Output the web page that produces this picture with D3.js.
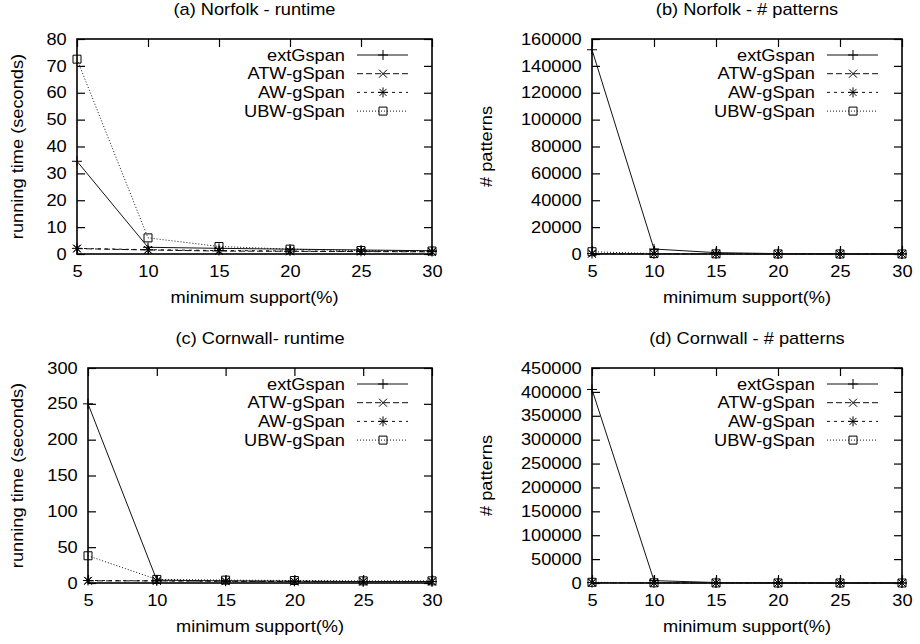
<!DOCTYPE html>
<html>
<head>
<meta charset="utf-8">
<script src="https://cdn.jsdelivr.net/npm/d3@7"></script>
<style>
  body { margin: 0; background: #fff; }
  text { font-family: "Liberation Sans", Arial, Helvetica, sans-serif; fill: #000; }
</style>
</head>
<body>
<div id="chart"></div>
<script>
// x values shared by all four panels
var supports = [5, 10, 15, 20, 25, 30];
var seriesNames = ["extGspan", "ATW-gSpan", "AW-gSpan", "UBW-gSpan"];

// (a) Norfolk - runtime (seconds)
var norfolkTimeExt = [34.5, 2.5, 2.1, 1.8, 1.5, 1.2];
var norfolkTimeATW = [2.0, 1.5, 1.1, 1.0, 0.9, 0.8];
var norfolkTimeAW  = [2.1, 1.6, 1.3, 1.1, 1.0, 0.9];
var norfolkTimeUBW = [72.5, 6.0, 2.8, 1.8, 1.3, 1.1];

// (b) Norfolk - # patterns
var norfolkPatExt = [152000, 3700, 1000, 300, 100, 50];
var norfolkPatATW = [300, 150, 80, 40, 20, 10];
var norfolkPatAW  = [300, 150, 80, 40, 20, 10];
var norfolkPatUBW = [1700, 300, 120, 50, 25, 12];

// (c) Cornwall - runtime (seconds)
var cornwallTimeExt = [250, 4, 3, 2.5, 2, 2];
var cornwallTimeATW = [3, 3, 2.5, 2, 2, 2];
var cornwallTimeAW  = [3.5, 3, 2.5, 2.5, 2, 2];
var cornwallTimeUBW = [38, 5, 4, 3.5, 3, 3];

// (d) Cornwall - # patterns
var cornwallPatExt = [405000, 5000, 1000, 300, 100, 50];
var cornwallPatATW = [800, 300, 100, 50, 20, 10];
var cornwallPatAW  = [800, 300, 100, 50, 20, 10];
var cornwallPatUBW = [1500, 400, 150, 60, 25, 12];

// y tick values per panel
var ticksA = [0, 10, 20, 30, 40, 50, 60, 70, 80];
var ticksB = [0, 20000, 40000, 60000, 80000, 100000, 120000, 140000, 160000];
var ticksC = [0, 50, 100, 150, 200, 250, 300];
var ticksD = [0, 50000, 100000, 150000, 200000, 250000, 300000, 350000, 400000, 450000];

var panels = [
    {title: "(a) Norfolk - runtime", ylabel: "running time (seconds)", ticks: ticksA,
     series: [norfolkTimeExt, norfolkTimeATW, norfolkTimeAW, norfolkTimeUBW],
     left: 77, right: 432, top: 39, bottom: 254, ylabX: 23},
    {title: "(b) Norfolk - # patterns", ylabel: "# patterns", ticks: ticksB,
     series: [norfolkPatExt, norfolkPatATW, norfolkPatAW, norfolkPatUBW],
     left: 592, right: 902, top: 39, bottom: 254, ylabX: 492},
    {title: "(c) Cornwall- runtime", ylabel: "running time (seconds)", ticks: ticksC,
     series: [cornwallTimeExt, cornwallTimeATW, cornwallTimeAW, cornwallTimeUBW],
     left: 88, right: 432, top: 368, bottom: 583, ylabX: 23},
    {title: "(d) Cornwall - # patterns", ylabel: "# patterns", ticks: ticksD,
     series: [cornwallPatExt, cornwallPatATW, cornwallPatAW, cornwallPatUBW],
     left: 592, right: 902, top: 368, bottom: 583, ylabX: 492}
];

// gnuplot-ish line styles and point glyphs
var dashes = [null, "6,3", "3,4", "1,2"];
var glyphs = [
    "M-5,0H5M0,-5V5",
    "M-4,-4L4,4M-4,4L4,-4",
    "M-5,0H5M0,-5V5M-3.5,-3.5L3.5,3.5M-3.5,3.5L3.5,-3.5",
    "M-4,-4H4V4H-4Z"
];
var fontSize = "16px";
var wide = 1.14; // the original's lettering is stretched sideways

var svg = d3.select("#chart").append("svg")
    .attr("width", 920).attr("height", 644);

function label(g, x, y, txt, anchor, rot){
    return g.append("text")
        .attr("transform", "translate(" + x + "," + y + ")" + (rot ? " rotate(" + rot + ")" : "") + " scale(" + wide + ",1)")
        .attr("text-anchor", anchor).style("font-size", fontSize).text(txt);
}

panels.forEach(function(p){
    var g = svg.append("g");
    var x = d3.scaleLinear().domain([5, 30]).range([p.left, p.right]);
    var y = d3.scaleLinear().domain([0, d3.max(p.ticks)]).range([p.bottom, p.top]);
    var tl = 8;

    // axes with inward ticks, mirrored on opposite sides
    var bx = g.append("g").attr("transform", "translate(0," + p.bottom + ")")
        .call(d3.axisBottom(x).tickValues(supports).tickSize(-tl).tickPadding(12).tickFormat(d3.format("d")));
    g.append("g").attr("transform", "translate(0," + p.top + ")")
        .call(d3.axisTop(x).tickValues(supports).tickSize(-tl).tickFormat(""));
    var ly = g.append("g").attr("transform", "translate(" + p.left + ",0)")
        .call(d3.axisLeft(y).tickValues(p.ticks).tickSize(-tl).tickPadding(9).tickFormat(d3.format("d")));
    g.append("g").attr("transform", "translate(" + p.right + ",0)")
        .call(d3.axisRight(y).tickValues(p.ticks).tickSize(-tl).tickFormat(""));

    g.selectAll(".domain").remove();
    g.selectAll(".tick line").attr("stroke", "#000").attr("stroke-width", 1.2);
    g.selectAll(".tick text").style("font-size", fontSize).attr("fill", "#000")
        .attr("transform", "scale(" + wide + ",1)");
    bx.selectAll(".tick text").attr("dy", "0.71em");

    g.append("rect")
        .attr("x", p.left).attr("y", p.top)
        .attr("width", p.right - p.left).attr("height", p.bottom - p.top)
        .attr("fill", "none").attr("stroke", "#000").attr("stroke-width", 1.6);

    // titles and axis labels
    label(g, (p.left + p.right) / 2, p.top - 24, p.title, "middle");
    label(g, (p.left + p.right) / 2, p.bottom + 49, "minimum support(%)", "middle");
    label(g, p.ylabX, (p.top + p.bottom) / 2, p.ylabel, "middle", -90);

    var line = d3.line()
        .x(function(d, i){ return x(supports[i]); })
        .y(function(d){ return y(d); });

    p.series.forEach(function(vals, k){
        g.append("path").datum(vals)
            .attr("d", line)
            .attr("fill", "none").attr("stroke", "#111").attr("stroke-width", 1)
            .attr("stroke-dasharray", dashes[k]);
        g.selectAll(".pt" + k).data(vals).enter().append("path")
            .attr("transform", function(d, i){ return "translate(" + x(supports[i]) + "," + y(d) + ")"; })
            .attr("d", glyphs[k])
            .attr("fill", "none").attr("stroke", "#000").attr("stroke-width", 1);
    });

    // legend
    var lg = g.append("g");
    seriesNames.forEach(function(name, k){
        var ry = p.top + 16 + k * 18.7;
        label(lg, p.right - 87, ry, name, "end").attr("dy", "0.35em");
        lg.append("line").attr("x1", p.right - 75).attr("x2", p.right - 24)
            .attr("y1", ry).attr("y2", ry)
            .attr("stroke", "#111").attr("stroke-width", 1).attr("stroke-dasharray", dashes[k]);
        lg.append("path").attr("transform", "translate(" + (p.right - 49) + "," + ry + ")")
            .attr("d", glyphs[k]).attr("fill", "none").attr("stroke", "#000").attr("stroke-width", 1);
    });
});
</script>
</body>
</html>
